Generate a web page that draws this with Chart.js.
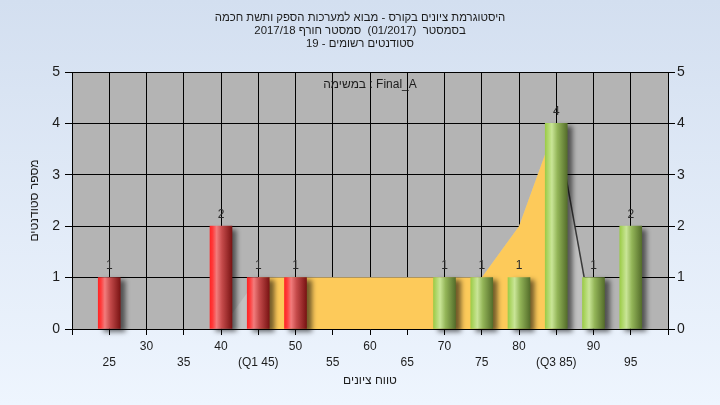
<!DOCTYPE html>
<html><head><meta charset="utf-8">
<script src="https://cdn.jsdelivr.net/npm/chart.js@4"></script>
<style>
html,body{margin:0;padding:0;}
#wrap{width:720px;height:405px;background:linear-gradient(to bottom,#d3dff0,#eef5fe);}
canvas{display:block;}
</style></head><body>
<div id="wrap"><canvas id="c" width="720" height="405"></canvas></div>
<script>
// ---- data ----
const titleLines = [
  'היסטוגרמת ציונים בקורס - מבוא למערכות הספק ותשת חכמה',
  'בסמסטר  (01/2017)  סמסטר חורף 2017/18',
  'סטודנטים רשומים - 19'
];
const taskLabel = 'במשימה : Final_A';
const xTitle = 'טווח ציונים';
const yTitle = 'מספר סטודנטים';

const redGrades = [25, 40, 45, 50];
const redCounts = [1, 2, 1, 1];
const greenGrades = [70, 75, 80, 85, 90, 95];
const greenCounts = [1, 1, 1, 4, 1, 2];

const iqrGrades = [45, 50, 55, 60, 65, 70, 75, 80, 85];
const iqrCounts = [1, 1, 1, 1, 1, 1, 1, 2, 4];
const bandGrades = [40, 45, 75, 80, 85, 90];
const bandCounts = [0, 1, 1, 2, 4, 0];
const trendGrades = [85, 90];
const trendCounts = [4, 0];

const quartileGrades = [45, 85];
const quartileNames = ['Q1', 'Q3'];
const xMin = 20, xMax = 100, xStep = 5;
const yMin = 0, yMax = 5, yStep = 1;

// ---- style ----
const FONT = "'Liberation Sans', Arial, sans-serif";
const TEXT = '#1c1c1c';
const BAR_W = 22;
const redStops = [[0,'#ff2626'],[0.12,'#ff3b3b'],[0.3,'#f27c7c'],[0.55,'#c44a4a'],[1,'#7a1414']];
const greenStops = [[0,'#9ccc48'],[0.3,'#c9e597'],[0.55,'#93b558'],[1,'#556e2b']];

const zip = (xs, ys) => xs.map((x, i) => ({x, y: ys[i]}));

function gradientAt(ctx, cx, stops) {
  const g = ctx.createLinearGradient(cx - BAR_W / 2, 0, cx + BAR_W / 2, 0);
  stops.forEach(([o, col]) => g.addColorStop(o, col));
  return g;
}
function cylinder(stops) {
  return (c) => {
    if (c.type !== 'data' || !c.raw) return stops[0][1];
    const xs = c.chart.scales.x;
    const cx = xs ? xs.getPixelForValue(c.raw.x) : NaN;
    if (!isFinite(cx)) return stops[0][1];
    return gradientAt(c.chart.ctx, cx, stops);
  };
}

const plotBg = {
  id: 'plotBg',
  beforeDraw(chart) {
    const {ctx, chartArea: a} = chart;
    ctx.save();
    ctx.fillStyle = '#b4b4b4';
    ctx.fillRect(a.left, a.top, a.right - a.left, a.bottom - a.top);
    ctx.restore();
  }
};
const shadow = {
  id: 'shadow',
  beforeDatasetDraw(chart, args) {
    if (args.meta.type !== 'bar') return;
    const ctx = chart.ctx;
    const stops = chart.data.datasets[args.index].cylStops;
    args.meta.data.forEach(el => {
      if (el.options && isFinite(el.x)) el.options.backgroundColor = gradientAt(ctx, el.x, stops);
    });
    ctx.save();
    ctx.shadowColor = 'rgba(0,0,0,0.55)';
    ctx.shadowBlur = 5;
    ctx.shadowOffsetX = 5;
    ctx.shadowOffsetY = 3;
  },
  afterDatasetDraw(chart, args) {
    if (args.meta.type !== 'bar') return;
    chart.ctx.restore();
  }
};
const valueLabels = {
  id: 'valueLabels',
  afterDatasetsDraw(chart) {
    const ctx = chart.ctx;
    ctx.save();
    ctx.font = '12px ' + FONT;
    ctx.fillStyle = '#2a2a2a';
    ctx.textAlign = 'center';
    ctx.textBaseline = 'bottom';
    chart.data.datasets.forEach((ds, i) => {
      const meta = chart.getDatasetMeta(i);
      if (meta.type !== 'bar') return;
      meta.data.forEach((el, j) => ctx.fillText(String(ds.data[j].y), el.x, el.y - 6));
    });
    ctx.restore();
  }
};
const taskText = {
  id: 'taskText',
  afterDatasetsDraw(chart) {
    const {ctx, chartArea: a} = chart;
    ctx.save();
    ctx.font = '12px ' + FONT;
    ctx.fillStyle = TEXT;
    ctx.textAlign = 'center';
    ctx.textBaseline = 'middle';
    ctx.fillText(taskLabel, (a.left + a.right) / 2, a.top + 13);
    ctx.restore();
  }
};

new Chart(document.getElementById('c'), {
  type: 'bar',
  data: {
    datasets: [
      { type: 'bar', data: zip(redGrades, redCounts), backgroundColor: cylinder(redStops), cylStops: redStops,
        barThickness: BAR_W, grouped: false, clip: false, order: 0 },
      { type: 'bar', data: zip(greenGrades, greenCounts), backgroundColor: cylinder(greenStops), cylStops: greenStops,
        barThickness: BAR_W, grouped: false, clip: false, order: 0 },
      { type: 'line', data: zip(iqrGrades, iqrCounts), fill: 'origin', backgroundColor: '#fdca5a',
        borderWidth: 0, pointRadius: 0, tension: 0, order: 2 },
      { type: 'line', data: zip(trendGrades, trendCounts), fill: false, borderColor: '#3a3a3a',
        borderWidth: 1.5, pointRadius: 0, tension: 0, order: 3 },
      { type: 'line', data: zip(bandGrades, bandCounts), fill: 'origin', backgroundColor: '#c1c1c1',
        borderWidth: 0, pointRadius: 0, tension: 0, order: 4 }
    ]
  },
  options: {
    responsive: false,
    animation: false,
    events: [],
    layout: { padding: 0 },
    plugins: {
      legend: { display: false },
      tooltip: { enabled: false },
      title: {
        display: true,
        text: titleLines,
        color: TEXT,
        font: { family: FONT, size: 11.4, weight: 'normal', lineHeight: 13 / 11.4 },
        padding: { top: 11, bottom: 22 }
      }
    },
    scales: {
      x: {
        type: 'linear', position: 'bottom', min: xMin, max: xMax, offset: false,
        ticks: {
          stepSize: xStep, autoSkip: false, maxRotation: 0, minRotation: 0, padding: 4,
          color: TEXT, font: { family: FONT, size: 12, lineHeight: 1.34 },
          callback(v) {
            if (v === xMin || v === xMax) return '';
            const qi = quartileGrades.indexOf(v);
            const txt = qi >= 0 ? '(' + quartileNames[qi] + ' ' + v + ')' : String(v);
            return v % 10 === 0 ? txt : ['', txt];
          }
        },
        grid: { color: '#000', lineWidth: 1, tickLength: 6, offset: false },
        border: { color: '#000', width: 1 },
        title: { display: true, text: xTitle, color: TEXT,
                 font: { family: FONT, size: 12 }, padding: { top: 0, bottom: 17 } },
        afterFit(s) { s.height = 76; }
      },
      y: {
        position: 'left', min: yMin, max: yMax,
        ticks: { stepSize: yStep, padding: 5, color: TEXT, font: { family: FONT, size: 14 } },
        grid: { color: '#000', lineWidth: 1, tickLength: 7 },
        border: { color: '#000', width: 1 },
        title: { display: true, text: yTitle, color: TEXT,
                 font: { family: FONT, size: 12 }, padding: { top: 27, bottom: 0 } },
        afterFit(s) { s.width = 72; }
      },
      y2: {
        position: 'right', min: yMin, max: yMax,
        ticks: { stepSize: yStep, padding: 2, color: TEXT, font: { family: FONT, size: 14 } },
        grid: { drawOnChartArea: false, color: '#000', lineWidth: 1, tickLength: 7 },
        border: { color: '#000', width: 1 },
        afterFit(s) { s.width = 52; }
      }
    }
  },
  plugins: [plotBg, shadow, valueLabels, taskText]
});
</script>
</body></html>
